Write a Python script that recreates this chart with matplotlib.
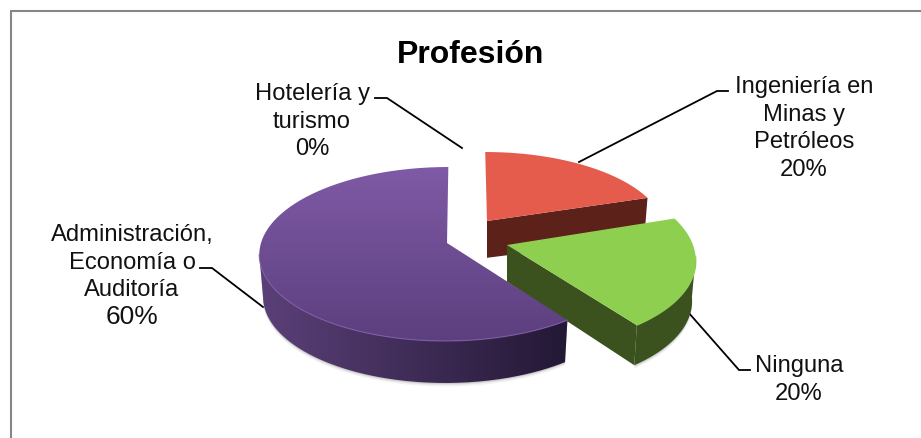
import numpy as np
import matplotlib
matplotlib.use("Agg")
import matplotlib.pyplot as plt
from matplotlib.path import Path
from matplotlib.patches import PathPatch
from matplotlib.colors import LinearSegmentedColormap

plt.rcParams['font.family'] = ['Liberation Sans', 'DejaVu Sans']

# Survey results, clockwise from twelve o'clock
categories = ["Ingeniería en\nMinas y\nPetróleos", "Ninguna", "Administración,\nEconomía o\nAuditoría", "Hotelería y\nturismo"]
shares = [20, 20, 60, 0]
title = "Profesión"

# Perspective of the tilted disc
TILT = 0.1264
RISE = 85.6
BASE_SHRINK = 0.98
# Placement of each exploded slice: apex x, apex y, x radius, y scale, x skew, depth
slice_layout = [
    (487, 222, 176, 0.908, -2, 40),
    (507, 246, 186, 1.04, -9, 40),
    (447, 244, 186, 1.00, 1.5, 42),
]
top_colors = [("#E55C4D", "#E55C4D"), ("#8ECF50", "#8ECF50"), ("#7F5AA6", "#5C3F7E")]
wall_colors = [("#5C2219", "#5C2219"), ("#3B521E", "#3B521E"), ("#5B4079", "#231835")]

fig = plt.figure(figsize=(9.21, 4.39), dpi=100)
ax = fig.add_axes([0, 0, 1, 1])
ax.set_xlim(0, 921)
ax.set_ylim(439, 0)
ax.axis("off")

# Chart frame: its top and left sides fall inside the canvas
ax.plot([10.5, 10.5, 921], [439, 12, 12], color="#868686", lw=1.5, zorder=1, solid_joinstyle="miter")


def rim(theta, ax_x, ax_y, sx, sy, skew):
    """Project a clock angle on the unit circle onto the tilted disc."""
    u, v = np.sin(theta), np.cos(theta)
    d = 1 + TILT * v
    return ax_x + (sx * u + skew * v) / d, ax_y - sy * RISE * v / d


def gradient_fill(verts, c0, c1, vertical, z):
    """Fill a polygon with a linear gradient clipped to its outline."""
    verts = np.asarray(verts)
    cmap = LinearSegmentedColormap.from_list("g", [c0, c1])
    ramp = np.linspace(0, 1, 256).reshape(-1, 1) if vertical else np.linspace(0, 1, 256).reshape(1, -1)
    x0, x1 = verts[:, 0].min(), verts[:, 0].max()
    y0, y1 = verts[:, 1].min(), verts[:, 1].max()
    im = ax.imshow(ramp, cmap=cmap, extent=(x0, x1, y1, y0), aspect="auto", zorder=z, interpolation="bilinear")
    patch = PathPatch(Path(np.vstack([verts, verts[:1]])), transform=ax.transData, fc="none", ec="none")
    ax.add_patch(patch)
    im.set_clip_path(patch)


edges = np.cumsum([0] + shares) / sum(shares) * 2 * np.pi
for i, (layout, tc, wc) in enumerate(zip(slice_layout, top_colors, wall_colors)):
    ax_x, ax_y, sx, sy, skew, depth = layout
    z = 2 + i * 3
    th = np.linspace(edges[i], edges[i + 1], 300)
    rx, ry = rim(th, ax_x, ax_y, sx, sy, skew)
    bx = ax_x + (rx - ax_x) * BASE_SHRINK
    by = ry + depth
    top = np.column_stack([np.r_[ax_x, rx], np.r_[ax_y, ry]])
    # Outer wall where the rim faces the viewer, over a soft contact shadow
    facing = np.cos(th) < -TILT
    if facing.any():
        fx, fy = rx[facing], ry[facing]
        gx, gy = bx[facing], by[facing]
        for grow, alpha in ((3.5, 0.05), (2.0, 0.07), (1.0, 0.09)):
            ax.fill(np.r_[fx, gx[::-1]], np.r_[fy, gy[::-1] + grow], color="k", alpha=alpha, lw=0, zorder=z - 0.5)
        wall = np.column_stack([np.r_[fx, gx[::-1]], np.r_[fy, gy[::-1]]])
        gradient_fill(wall, wc[0], wc[1], False, z)
    # Cut face at the clockwise end of the slice, when it turns toward the viewer
    if np.sin(edges[i + 1]) > 1e-6:
        face = np.array([[ax_x, ax_y], [rx[-1], ry[-1]], [bx[-1], by[-1]], [ax_x, ax_y + depth * 0.92]])
        ax.fill(face[:, 0], face[:, 1], color=wc[1], lw=0, zorder=z + 0.2)
    gradient_fill(top, tc[0], tc[1], True, z + 0.5)
    # Lighter bevel along the front rim
    if facing.any():
        ax.plot(rx[facing], ry[facing], color=tc[0], lw=0.9, alpha=0.8, zorder=z + 0.6)

# Leader lines
leaders = [
    ([375, 387, 462], [99, 99, 149]),
    ([728, 717, 579], [92, 92, 163]),
    ([200, 212, 263], [269, 269, 308]),
    ([750, 739, 688], [371, 371, 313]),
]
for lx, ly in leaders:
    ax.plot(lx, ly, color="k", lw=1.3, zorder=1.5, solid_joinstyle="miter")

ax.text(471, 55, title, ha="center", va="center", fontsize=23, fontweight="bold", color="k", zorder=20)

# Label anchors: centre x and the y of the first line
labels = [
    (804, 85, categories[0], shares[0]),
    (799, 364, categories[1], shares[1]),
    (132, 233, categories[2], shares[2]),
    (312, 92, categories[3], shares[3]),
]
LINE_STEP = 27.6
for x, y, name, value in labels:
    lines = name.split("\n")
    for k, line in enumerate(lines):
        ax.text(x, y + 8 + k * LINE_STEP, line, ha="center", va="baseline", fontsize=17.1, color="#111111", zorder=20)
    pct_size = 19 if value == 60 else 17.1
    ax.text(x, y + 8 + len(lines) * LINE_STEP, f"{value}%", ha="center", va="baseline", fontsize=pct_size, color="#111111", zorder=20)

fig.savefig("out.png", dpi=100)
